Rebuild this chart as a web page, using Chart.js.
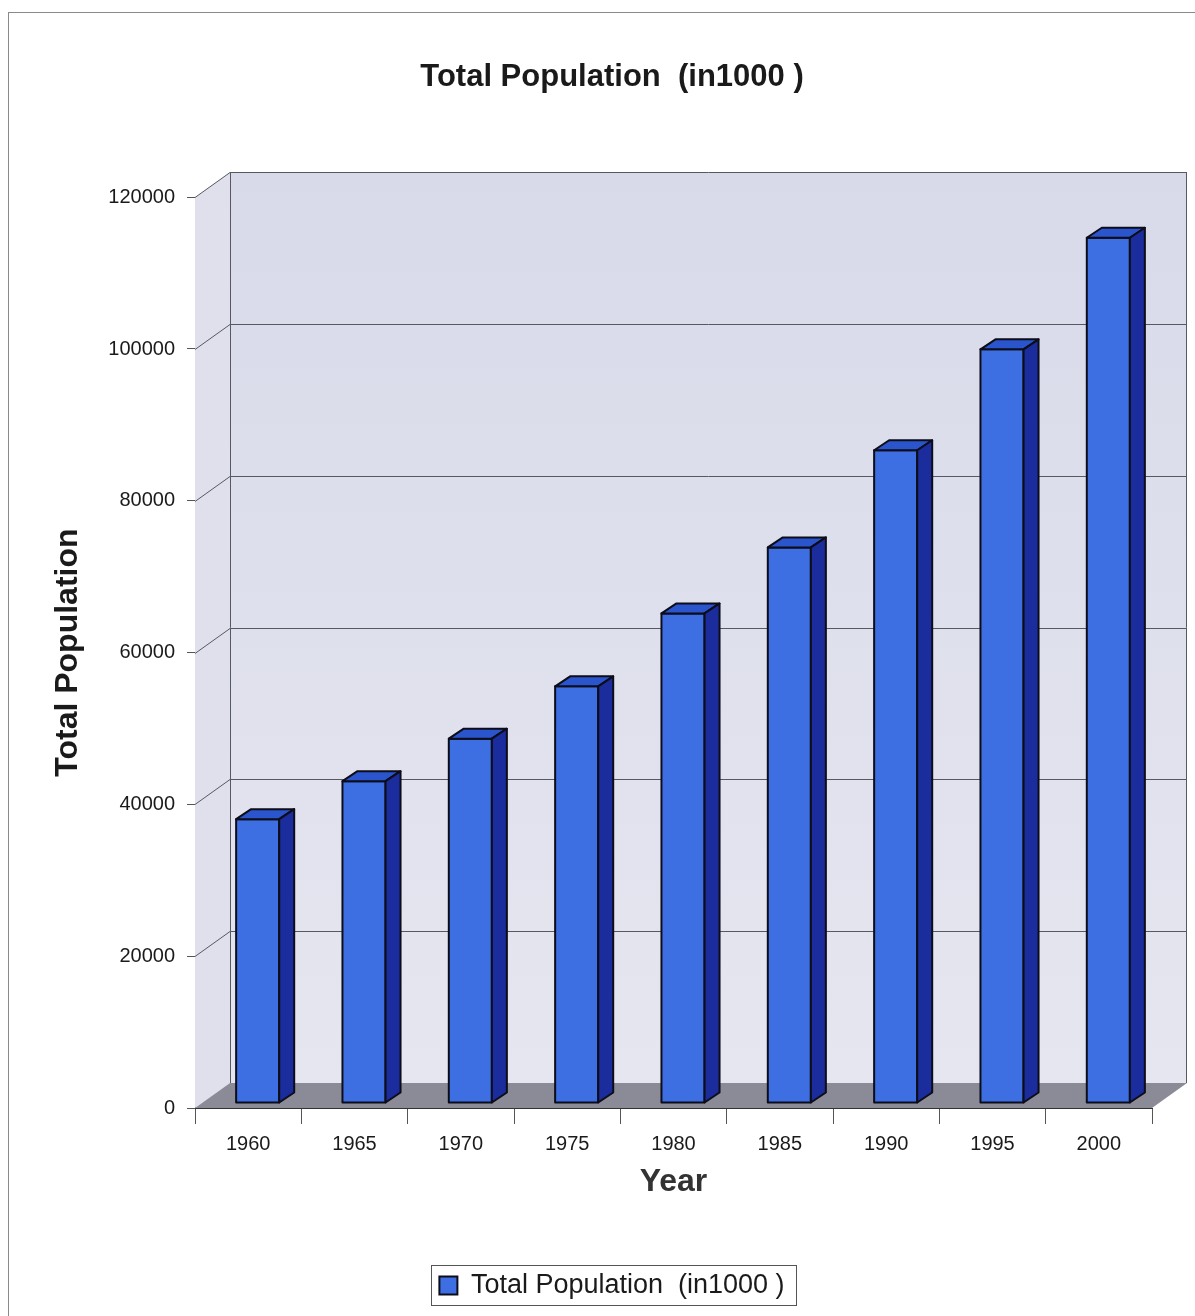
<!DOCTYPE html>
<html>
<head>
<meta charset="utf-8">
<script src="https://cdn.jsdelivr.net/npm/chart.js@4/dist/chart.umd.min.js"></script>
<style>
  html, body { margin: 0; padding: 0; background: #fff; }
  #wrap { width: 1195px; height: 1316px; position: relative; }
</style>
</head>
<body>
<div id="wrap"><canvas id="grafico"></canvas></div>
<script>
// datos del gráfico
const years = ["1960", "1965", "1970", "1975", "1980", "1985", "1990", "1995", "2000"];
const population = [37400, 42400, 48000, 54900, 64500, 73200, 86000, 99300, 114000];
const yTicks = [0, 20000, 40000, 60000, 80000, 100000, 120000];

const FONT = "'Liberation Sans', Arial, sans-serif";
const DX = 35, DY = -25;      // profundidad del fondo 3D
const BX = 15, BY = -10;      // profundidad de cada barra
const SHIFT_X = 9.5, SHIFT_Y = -5;
const BOX_SHIFT = 36;         // título y leyenda algo a la derecha

// fondo, paredes y piso en 3D
const wallsPlugin = {
  id: "walls",
  afterLayout(chart) {
    [chart.titleBlock, chart.legend].forEach(b => {
      if (!b) return;
      b.left += BOX_SHIFT;
      b.right += BOX_SHIFT;
    });
  },
  beforeDatasetsDraw(chart) {
    const ctx = chart.ctx;
    const a = chart.chartArea;
    const y = chart.scales.y;
    ctx.save();
    // marco exterior
    ctx.strokeStyle = "#8a8a8a";
    ctx.lineWidth = 1;
    ctx.strokeRect(8.5, 12.5, 1200, 1320);

    const gTop = a.top + DY, gBot = a.bottom + DY;
    const grad = ctx.createLinearGradient(0, gTop, 0, gBot);
    grad.addColorStop(0, "#d8daea");
    grad.addColorStop(1, "#e5e6ef");
    // pared trasera
    ctx.fillStyle = grad;
    ctx.fillRect(a.left + DX, gTop, a.right - a.left, gBot - gTop);
    // pared izquierda
    ctx.fillStyle = "#dfe0ec";
    ctx.beginPath();
    ctx.moveTo(a.left, a.top);
    ctx.lineTo(a.left + DX, gTop);
    ctx.lineTo(a.left + DX, gBot);
    ctx.lineTo(a.left, a.bottom);
    ctx.closePath();
    ctx.fill();
    // piso
    ctx.fillStyle = "#8b8b97";
    ctx.beginPath();
    ctx.moveTo(a.left, a.bottom);
    ctx.lineTo(a.left + DX, gBot);
    ctx.lineTo(a.right + DX, gBot);
    ctx.lineTo(a.right, a.bottom);
    ctx.closePath();
    ctx.fill();

    // líneas de la cuadrícula
    ctx.strokeStyle = "#555a60";
    ctx.lineWidth = 1;
    yTicks.forEach(v => {
      if (v === 0) return;
      const py = Math.round(y.getPixelForValue(v)) + 0.5;
      ctx.beginPath();
      ctx.moveTo(a.left, py);
      ctx.lineTo(a.left + DX, py + DY);
      ctx.lineTo(a.right + DX, py + DY);
      ctx.stroke();
    });
    // bordes de la pared
    ctx.beginPath();
    ctx.moveTo(a.left + DX + 0.5, gBot);
    ctx.lineTo(a.left + DX + 0.5, gTop);
    ctx.moveTo(a.right + DX - 0.5, gTop);
    ctx.lineTo(a.right + DX - 0.5, gBot);
    ctx.stroke();
    ctx.restore();
  },
  beforeDatasetDraw() {
    return false; // las barras se dibujan en 3D abajo
  },
  afterDatasetsDraw(chart) {
    const ctx = chart.ctx;
    const meta = chart.getDatasetMeta(0);
    ctx.save();
    ctx.lineJoin = "round";
    ctx.strokeStyle = "#0d0d1a";
    ctx.lineWidth = 2;
    meta.data.forEach(bar => {
      const p = bar.getProps(["x", "y", "base", "width"], true);
      const x0 = p.x - p.width / 2 + SHIFT_X, x1 = x0 + p.width;
      const yt = p.y + SHIFT_Y, yb = p.base + SHIFT_Y;
      // cara frontal
      ctx.fillStyle = "#3d6fe3";
      ctx.beginPath();
      ctx.rect(x0, yt, p.width, yb - yt);
      ctx.fill(); ctx.stroke();
      // cara superior
      ctx.fillStyle = "#2b55cd";
      ctx.beginPath();
      ctx.moveTo(x0, yt);
      ctx.lineTo(x0 + BX, yt + BY);
      ctx.lineTo(x1 + BX, yt + BY);
      ctx.lineTo(x1, yt);
      ctx.closePath();
      ctx.fill(); ctx.stroke();
      // cara lateral
      ctx.fillStyle = "#1b2c9c";
      ctx.beginPath();
      ctx.moveTo(x1, yt);
      ctx.lineTo(x1 + BX, yt + BY);
      ctx.lineTo(x1 + BX, yb + BY);
      ctx.lineTo(x1, yb);
      ctx.closePath();
      ctx.fill(); ctx.stroke();
    });
    ctx.restore();
  },
  afterDraw(chart) {
    // recuadro de la leyenda
    const box = chart.legend.legendHitBoxes[0];
    if (!box) return;
    const ctx = chart.ctx;
    ctx.save();
    ctx.strokeStyle = "#555";
    ctx.lineWidth = 1;
    ctx.strokeRect(Math.round(box.left - 8) + 0.5, Math.round(box.top - 7) + 0.5,
      Math.round(box.width + 20), Math.round(box.height + 13));
    ctx.restore();
  }
};

const ctx = document.getElementById("grafico").getContext("2d");
new Chart(ctx, {
  type: "bar",
  data: {
    labels: years,
    datasets: [{
      label: "Total Population  (in1000 )",
      data: population,
      backgroundColor: "#3d6fe3",
      borderColor: "#0d0d1a",
      borderWidth: 2,
      categoryPercentage: 0.81,
      barPercentage: 0.5
    }]
  },
  options: {
    responsive: true,
    maintainAspectRatio: false,
    animation: false,
    layout: { padding: { left: 0, right: 43, top: 0, bottom: 7 } },
    plugins: {
      title: {
        display: true,
        text: "Total Population  (in1000 )",
        color: "#1a1a1a",
        font: { family: FONT, size: 31, weight: "bold" },
        padding: { top: 59, bottom: 101 }
      },
      legend: {
        position: "bottom",
        labels: {
          color: "#1a1a1a",
          font: { family: FONT, size: 27 },
          boxWidth: 18,
          boxHeight: 18,
          padding: 34
        }
      },
      tooltip: { enabled: false }
    },
    scales: {
      x: {
        afterFit(scale) { scale.height = 130; },
        grid: {
          offset: true,
          drawOnChartArea: false,
          tickLength: 16,
          color: "#555"
        },
        border: { color: "#333", width: 1 },
        ticks: {
          color: "#1a1a1a",
          font: { family: FONT, size: 20 },
          padding: 8,
          maxRotation: 0
        },
        title: {
          display: true,
          text: "Year",
          color: "#333",
          font: { family: FONT, size: 32, weight: "bold" },
          padding: { top: 37, bottom: 37 }
        }
      },
      y: {
        min: 0,
        max: 120000,
        afterFit(scale) { scale.width = 195; },
        afterBuildTicks(scale) { scale.ticks = yTicks.map(v => ({ value: v })); },
        grid: {
          drawOnChartArea: false,
          tickLength: 8,
          color: "#555"
        },
        border: { color: "#333", width: 1 },
        ticks: {
          color: "#1a1a1a",
          font: { family: FONT, size: 20 },
          padding: 12,
          callback: v => String(v)
        },
        title: {
          display: true,
          text: "Total Population",
          color: "#1a1a1a",
          font: { family: FONT, size: 32, weight: "bold" },
          padding: { top: 49, bottom: 49 }
        }
      }
    }
  },
  plugins: [wallsPlugin]
});
</script>
</body>
</html>
